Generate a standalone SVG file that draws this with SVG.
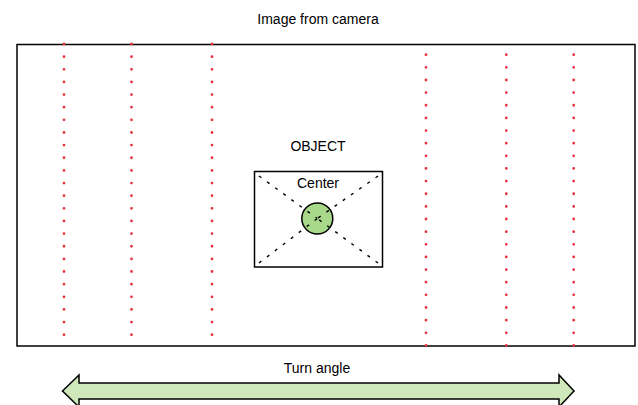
<svg xmlns="http://www.w3.org/2000/svg" width="638" height="405" viewBox="0 0 638 405">
<style>
text{font-family:"Liberation Sans",Arial,sans-serif;font-size:14px;fill:#000;text-anchor:middle}
.dots{stroke:#e8333d;stroke-width:2.8;stroke-linecap:round;stroke-dasharray:0 12.64;fill:none}
.diag{stroke:#000;stroke-width:1.4;stroke-dasharray:3 7;fill:none}
</style>
<rect width="638" height="405" fill="#fff"/>
<g id="frame">
<rect x="17" y="44.5" width="618" height="301.5" fill="#fff" stroke="#000" stroke-width="1.5"/>
<text x="318" y="24">Image from camera</text>
</g>
<g id="grid-lines">
<path class="dots" d="M64,44V336M131.5,44V336M212,44V336M426,54.7V347M506.3,54.7V347M573.7,54.7V347"/>
</g>
<g id="object">
<text x="318" y="151">OBJECT</text>
<rect x="254.5" y="171.5" width="128" height="95.5" fill="#fff" stroke="#000" stroke-width="1.5"/>
<text x="318" y="188">Center</text>
<circle cx="317.3" cy="218.5" r="15.5" fill="#a8d88a" stroke="#000" stroke-width="1.5"/>
</g>
<g id="connectors">
<path class="diag" d="M259,176L317.3,218.5M378,176L317.3,218.5M259,263L317.3,218.5M378,263L317.3,218.5"/>
</g>
<g id="turn-angle">
<text x="317" y="373">Turn angle</text>
<path d="M62.5,391L79,375V383H559V375L574,391L559,407V399H79V407Z" fill="#cfe8bb" stroke="#000" stroke-width="1.5" stroke-linejoin="miter"/>
</g>
</svg>
